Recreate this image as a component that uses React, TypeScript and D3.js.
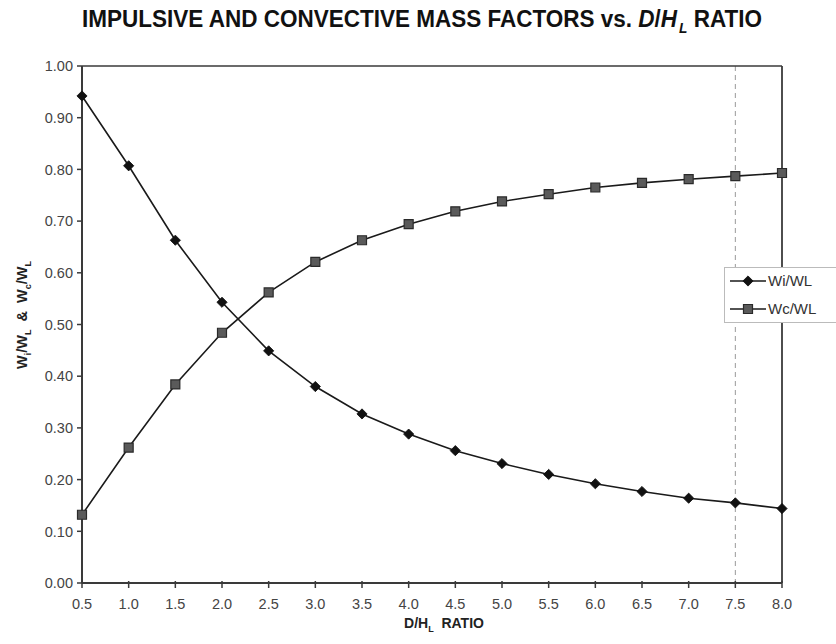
import React from 'react';
import * as d3 from 'd3';

const ratios = [0.5, 1.0, 1.5, 2.0, 2.5, 3.0, 3.5, 4.0, 4.5, 5.0, 5.5, 6.0, 6.5, 7.0, 7.5, 8.0];
const wiWL = [0.942, 0.807, 0.663, 0.543, 0.449, 0.380, 0.327, 0.288, 0.256, 0.231, 0.210, 0.192, 0.177, 0.164, 0.155, 0.144];
const wcWL = [0.132, 0.262, 0.384, 0.484, 0.562, 0.621, 0.663, 0.694, 0.719, 0.738, 0.752, 0.765, 0.774, 0.781, 0.787, 0.793];
const xTicks = [0.5, 1.0, 1.5, 2.0, 2.5, 3.0, 3.5, 4.0, 4.5, 5.0, 5.5, 6.0, 6.5, 7.0, 7.5, 8.0];
const yTicks = [0, 0.1, 0.2, 0.3, 0.4, 0.5, 0.6, 0.7, 0.8, 0.9, 1.0];
const seriesNames = ['Wi/WL', 'Wc/WL'];
const refLineX = 7.5;

const FONT = '"Liberation Sans", Arial, Helvetica, sans-serif';
const NARROW = '"Liberation Sans Narrow", "Liberation Sans", Arial, sans-serif';

export default function App() {
  const W = 836, H = 644;
  const x = d3.scaleLinear().domain([0.5, 8]).range([82, 782]);
  const y = d3.scaleLinear().domain([0, 1]).range([583, 66]);
  const line = d3.line<number>().x((_, i) => x(ratios[i])).y((d) => y(d));
  const diamond = d3.symbol(d3.symbolSquare, 52)() as string;
  const square = d3.symbol(d3.symbolSquare, 81)() as string;
  const axisColor = '#3a3a3a';
  const tickTextColor = '#444';

  const Diamond = ({ cx, cy }: { cx: number; cy: number }) => (
    <path d={diamond} transform={`translate(${cx},${cy}) rotate(45)`} fill="#111" stroke="#111" strokeWidth={0.8} />
  );
  const Square = ({ cx, cy }: { cx: number; cy: number }) => (
    <path d={square} transform={`translate(${cx},${cy})`} fill="#5a5a5a" stroke="#2a2a2a" strokeWidth={1.2} />
  );

  const [x0, x1] = x.range();
  const [yb, yt] = y.range();

  return (
    <svg width={W} height={H} style={{ position: 'absolute', left: 0, top: 0, background: '#fff' }}>
      <rect x={0} y={0} width={W} height={H} fill="#fff" />
      {/* Title */}
      <text x={82} y={27} fontFamily={NARROW} fontWeight="bold" fontSize={23} fill="#111"
        textLength={680} lengthAdjust="spacingAndGlyphs">
        IMPULSIVE AND CONVECTIVE MASS FACTORS vs. <tspan fontStyle="italic">D</tspan>/<tspan fontStyle="italic">H</tspan>
        <tspan fontStyle="italic" fontSize={14} dx={2} dy={6}>L</tspan>
        <tspan dy={-6}> RATIO</tspan>
      </text>

      {/* Reference dashed line */}
      <line x1={x(refLineX)} x2={x(refLineX)} y1={yt} y2={yb} stroke="#999" strokeWidth={1} strokeDasharray="5,4" />

      {/* Frame */}
      <line x1={x0} x2={x1} y1={yt} y2={yt} stroke={axisColor} strokeWidth={1.6} />
      <line x1={x1} x2={x1} y1={yt} y2={yb} stroke={axisColor} strokeWidth={1.8} />
      <line x1={x0} x2={x0} y1={yt} y2={yb} stroke={axisColor} strokeWidth={2} />
      <line x1={x0} x2={x1} y1={yb} y2={yb} stroke={axisColor} strokeWidth={2} />

      {/* Y ticks */}
      {yTicks.map((t) => (
        <g key={'y' + t}>
          <line x1={x0 - 5} x2={x0} y1={y(t)} y2={y(t)} stroke={axisColor} strokeWidth={1.5} />
          <text x={x0 - 9} y={y(t)} dy="0.36em" textAnchor="end" fontFamily={FONT} fontSize={14.5} fill={tickTextColor}>
            {t.toFixed(2)}
          </text>
        </g>
      ))}
      {/* X ticks */}
      {xTicks.map((t) => (
        <g key={'x' + t}>
          <line x1={x(t)} x2={x(t)} y1={yb - 2} y2={yb + 5} stroke={axisColor} strokeWidth={1.5} />
          <text x={x(t)} y={609} textAnchor="middle" fontFamily={FONT} fontSize={14.5} fill={tickTextColor}>
            {t.toFixed(1)}
          </text>
        </g>
      ))}

      {/* X label */}
      <text x={444} y={628} textAnchor="middle" fontFamily={FONT} fontWeight="bold" fontSize={14} fill="#222"
        style={{ whiteSpace: 'pre' }}>
        D/H<tspan fontSize={9} dy={4}>L</tspan><tspan dy={-4}>{'  RATIO'}</tspan>
      </text>

      {/* Y label */}
      <text transform="translate(27,315) rotate(-90)" textAnchor="middle" fontFamily={FONT} fontWeight="bold" fontSize={14.5} fill="#222"
        style={{ whiteSpace: 'pre' }}>
        W<tspan fontSize={9} dy={4}>i</tspan><tspan dy={-4}>/W</tspan><tspan fontSize={9} dy={4}>L</tspan><tspan dy={-4}>{'  &  W'}</tspan><tspan fontSize={9} dy={4}>c</tspan><tspan dy={-4}>/W</tspan><tspan fontSize={9} dy={4}>L</tspan>
      </text>

      {/* Series lines */}
      <path d={line(wiWL) as string} fill="none" stroke="#1a1a1a" strokeWidth={1.6} />
      <path d={line(wcWL) as string} fill="none" stroke="#1a1a1a" strokeWidth={1.6} />
      {wiWL.map((v, i) => <Diamond key={'d' + i} cx={x(ratios[i])} cy={y(v)} />)}
      {wcWL.map((v, i) => <Square key={'s' + i} cx={x(ratios[i])} cy={y(v)} />)}

      {/* Legend */}
      <g>
        <rect x={724.5} y={267.5} width={120} height={55} fill="#fff" stroke="#bbb" strokeWidth={1} />
        <line x1={730} x2={766} y1={281} y2={281} stroke="#1a1a1a" strokeWidth={1.6} />
        <Diamond cx={748} cy={281} />
        <text x={768} y={281} dy="0.36em" fontFamily={FONT} fontSize={15} fill="#333">{seriesNames[0]}</text>
        <line x1={730} x2={766} y1={309} y2={309} stroke="#1a1a1a" strokeWidth={1.6} />
        <Square cx={748} cy={309} />
        <text x={768} y={309} dy="0.36em" fontFamily={FONT} fontSize={15} fill="#333">{seriesNames[1]}</text>
      </g>
    </svg>
  );
}
